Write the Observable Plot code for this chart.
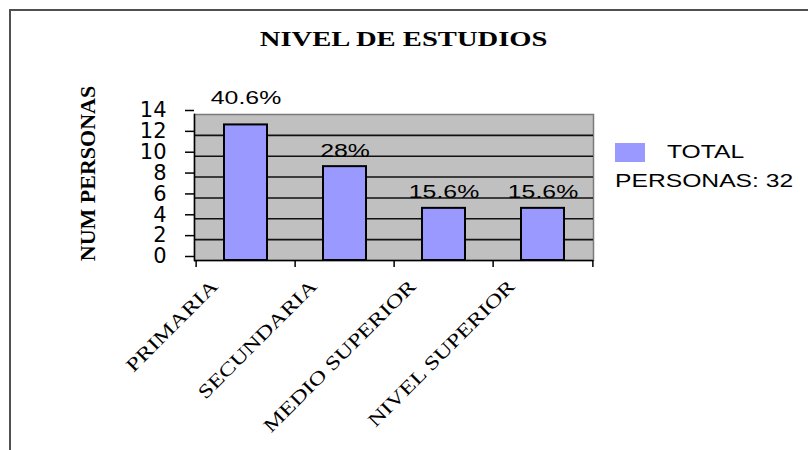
<!DOCTYPE html>
<html>
<head>
<meta charset="utf-8">
<script src="https://cdn.jsdelivr.net/npm/d3@7"></script>
<script src="https://cdn.jsdelivr.net/npm/@observablehq/plot@0.6"></script>
<style>
  html, body { margin: 0; padding: 0; background: #fff; overflow: hidden; }
  #wrap { position: relative; width: 808px; height: 450px; overflow: hidden; background: #fff; }
  #border { position: absolute; left: 9px; top: 9px; width: 900px; height: 600px; border: 2px solid #505050; box-sizing: border-box; }
  #chart { position: absolute; left: 0; top: 0; }
  #title { position: absolute; left: 0; top: 28px; width: 808px; text-align: center; }
  #title span { display: inline-block; font: bold 22px "Liberation Serif", "Times New Roman", serif; line-height: 22px; color: #000; transform: scaleX(1.3); transform-origin: 50% 50%; white-space: pre; }
  .leg { position: absolute; font: 18px "Liberation Sans", Arial, sans-serif; line-height: 18px; color: #000; white-space: pre; transform: scaleX(1.37); transform-origin: 0 50%; }
  #swatch { position: absolute; left: 615px; top: 143px; width: 30px; height: 19px; }
</style>
</head>
<body>
<div id="wrap">
  <div id="border"></div>
  <div id="chart"></div>
  <div id="title"><span></span></div>
  <div id="swatch"></div>
  <div class="leg" id="leg1" style="left:667px; top:143px;"></div>
  <div class="leg" id="leg2" style="left:615px; top:172px;"></div>
</div>
<script>
// ---- data ----
const titleText = "NIVEL DE ESTUDIOS";
const yAxisTitle = "NUM PERSONAS";
const categories = ["PRIMARIA", "SECUNDARIA", "MEDIO SUPERIOR", "NIVEL SUPERIOR"];
const values = [13, 9, 5, 5];
const percentLabels = ["40.6%", "28%", "15.6%", "15.6%"];
const yTicks = [0, 2, 4, 6, 8, 10, 12, 14];
const seriesName = "TOTAL";
const legendNote = "PERSONAS: 32";
const barColor = "#9999ff";

const data = categories.map((c, i) => ({cat: c, value: values[i], pct: percentLabels[i]}));

const W = 808, H = 450;
const mL = 194, mR = 215, mT = 114, mB = 190;
const step = (W - mL - mR) / categories.length;
const yMax = yTicks[yTicks.length - 1];
// labels that would touch the top of the plot area are lifted above it
const nearTop = d => d.value > yMax - 2;

const labelStyle = {x: "cat", y: "value", text: "pct", lineAnchor: "bottom", textAnchor: "middle",
  fontSize: 18, fontFamily: "Liberation Sans", fill: "#000"};

const chart = Plot.plot({
  width: W,
  height: H,
  marginLeft: mL,
  marginRight: mR,
  marginTop: mT,
  marginBottom: mB,
  style: {background: "transparent", overflow: "visible"},
  x: {type: "band", domain: categories, paddingInner: 0.57, paddingOuter: 0.285, axis: null},
  y: {domain: [0, yMax], axis: null},
  marks: [
    Plot.frame({fill: "#c0c0c0", stroke: "#7a7a7a", strokeWidth: 1.5}),
    Plot.ruleY(yTicks.filter(d => d > 0 && d < yMax), {stroke: "#111", strokeWidth: 1.6}),
    Plot.barY(data, {x: "cat", y: "value", fill: barColor, stroke: "#000", strokeWidth: 2}),
    Plot.frame({anchor: "left", stroke: "#000", strokeWidth: 1.5}),
    Plot.ruleY([0], {stroke: "#000", strokeWidth: 1.5}),
    Plot.axisY(yTicks, {
      tickSize: 9, tickPadding: 19, fontSize: 21, fontFamily: "DejaVu Sans",
      dy: -4, label: null, stroke: "#000", strokeWidth: 1.5, color: "#000"
    }),
    // x tick marks at category boundaries
    Plot.axisX(categories, {tickSize: 7, tickFormat: () => "", dx: -step / 2, label: null, stroke: "#000", strokeWidth: 1.5}),
    Plot.axisX(categories.slice(-1), {tickSize: 7, tickFormat: () => "", dx: step / 2, label: null, stroke: "#000", strokeWidth: 1.5}),
    // rotated category labels
    Plot.text(categories, {
      x: d => d, frameAnchor: "bottom", rotate: -45, textAnchor: "end", lineAnchor: "bottom",
      dx: -27, dy: 27, fontSize: 19, fontFamily: "Liberation Serif", fill: "#000"
    }),
    // percentage labels
    Plot.text(data.filter(d => !nearTop(d)), {...labelStyle, dy: -10}),
    Plot.text(data.filter(nearTop), {...labelStyle, dy: -21}),
    // y axis title
    Plot.text([yAxisTitle], {
      frameAnchor: "left", textAnchor: "middle", lineAnchor: "middle", rotate: -90, dx: -107, dy: -14,
      fontSize: 22, fontWeight: "bold", fontFamily: "Liberation Serif", fill: "#000"
    })
  ]
});
document.getElementById("chart").appendChild(chart);

// horizontal stretch of the glyphs, as in the original picture
function stretch(filterSet, factor) {
  d3.select(chart).selectAll("text").each(function() {
    if (filterSet.includes(this.textContent)) {
      const len = this.getComputedTextLength();
      this.setAttribute("textLength", (len * factor).toFixed(1));
      this.setAttribute("lengthAdjust", "spacingAndGlyphs");
    }
  });
}
stretch(categories, 1.3);
stretch(percentLabels, 1.38);

document.querySelector("#title span").textContent = titleText;
document.getElementById("swatch").style.background = barColor;
document.getElementById("leg1").textContent = seriesName;
document.getElementById("leg2").textContent = legendNote;
</script>
</body>
</html>
